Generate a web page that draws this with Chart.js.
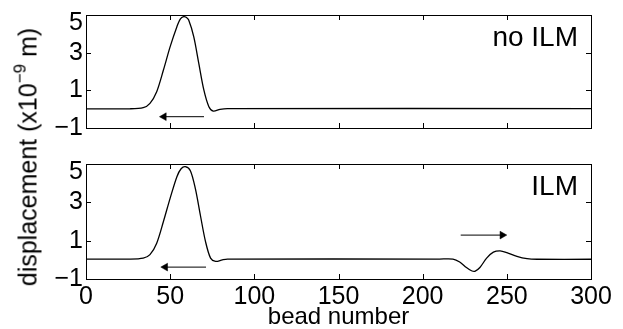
<!DOCTYPE html>
<html>
<head>
<meta charset="utf-8">
<script src="https://cdn.jsdelivr.net/npm/chart.js@4.4.1/dist/chart.umd.min.js"></script>
<style>
  html, body { margin: 0; padding: 0; background: #fff; overflow: hidden; }
  #wrap { position: relative; width: 623px; height: 329px; font-family: "Liberation Sans", Arial, sans-serif; }
  canvas { position: absolute; left: 0; }
  #c1 { top: 0; }
  #c2 { top: 150px; }
  #ylabel {
    position: absolute; left: 28px; top: 157px;
    transform: translate(-50%, -50%) rotate(-90deg);
    white-space: nowrap; font-size: 25px; color: #000;
  }
  #ylabel sup { font-size: 17px; line-height: 0; vertical-align: 11px; }
</style>
</head>
<body>
<div id="wrap">
  <canvas id="c1" width="623" height="140"></canvas>
  <canvas id="c2" width="623" height="182"></canvas>
  <div id="ylabel">displacement (x10<sup>&minus;9</sup> m)</div>
</div>
<script>
/* ===== data ===== */
const xTickValues = [0, 50, 100, 150, 200, 250, 300];
const xTickLabels = ["0", "50", "100", "150", "200", "250", "300"];
const yTickValues = [-1, 1, 3, 5];
const yTickLabels = ["\u22121", "1", "3", "5"];
const panelNames = ["no ILM", "ILM"];
const xAxisTitle = "bead number";

// upper panel: no ILM
const topBead = [0, 26, 34, 38, 42, 46, 50, 54, 56, 58, 59.5, 61, 64, 67, 70, 73, 75.6, 79.6, 84, 300];
const topDisp = [0.02, 0.02, 0.08, 0.31, 0.93, 2.08, 3.32, 4.38, 4.78, 4.91, 4.88, 4.73, 3.85, 2.43, 1.02, 0.13, -0.1, -0.01, 0.03, 0.03];

// lower panel: ILM
const bottomBead = [0, 26, 34, 38, 42, 46, 50, 54, 56.5, 59, 62, 65, 68, 71, 74, 77, 81, 84, 210, 218, 222, 226, 229, 231, 234, 238, 242, 246, 250, 256, 262, 268, 300];
const bottomDisp = [0.04, 0.04, 0.09, 0.27, 0.87, 2.0, 3.22, 4.34, 4.75, 4.86, 4.65, 3.7, 2.3, 0.95, 0.09, -0.08, 0.0, 0.04, 0.04, 0.04, -0.11, -0.4, -0.57, -0.6, -0.4, 0.09, 0.4, 0.47, 0.38, 0.18, 0.06, 0.03, 0.03];

// arrows: [tail, head centre]
const topArrowBead = [70.1, 46.3];
const topArrowDisp = [-0.4, -0.4];
const leftArrowBead = [71.3, 47.1];
const leftArrowDisp = [-0.38, -0.38];
const rightArrowBead = [222.6, 247.3];
const rightArrowDisp = [1.29, 1.29];

/* ===== helpers ===== */
const FONT = "'Liberation Sans', Arial, sans-serif";

function toPoints(xs, ys) {
  return xs.map((x, i) => ({ x: x, y: ys[i] }));
}

function curveSet(xs, ys) {
  return {
    data: toPoints(xs, ys),
    borderColor: "#000",
    borderWidth: 1.3,
    pointRadius: 0,
    tension: 0.3,
    fill: false
  };
}

function arrowSet(xs, ys, dir) {
  return {
    data: toPoints(xs, ys),
    borderColor: "#000",
    borderWidth: 1,
    tension: 0,
    pointStyle: "triangle",
    pointRadius: [0, 4.5],
    pointRotation: [0, dir],
    pointBackgroundColor: "#000",
    pointBorderColor: "#000",
    pointBorderWidth: 0.5,
    fill: false
  };
}

/* box, inward ticks and panel name */
const framePlugin = {
  id: "frame",
  afterDraw(chart, args, opts) {
    const { ctx, chartArea: a, scales } = chart;
    const tl = 5;
    ctx.save();
    ctx.strokeStyle = "#000";
    ctx.lineWidth = 1;
    ctx.strokeRect(a.left + 0.5, a.top + 0.5, a.right - a.left, a.bottom - a.top);
    ctx.beginPath();
    xTickValues.forEach(v => {
      const px = Math.round(scales.x.getPixelForValue(v)) + 0.5;
      ctx.moveTo(px, a.bottom); ctx.lineTo(px, a.bottom - tl);
      ctx.moveTo(px, a.top); ctx.lineTo(px, a.top + tl);
    });
    yTickValues.forEach(v => {
      const py = Math.round(scales.y.getPixelForValue(v)) + 0.5;
      ctx.moveTo(a.left, py); ctx.lineTo(a.left + tl, py);
      ctx.moveTo(a.right, py); ctx.lineTo(a.right - tl, py);
    });
    ctx.stroke();
    ctx.fillStyle = "#000";
    ctx.font = "28px " + FONT;
    ctx.textAlign = "right";
    ctx.textBaseline = "alphabetic";
    ctx.fillText(opts.name, a.right - 13, a.top + 31);
    ctx.restore();
  }
};

function makeChart(id, datasets, name, padTop, xAxisHeight, showX) {
  return new Chart(document.getElementById(id), {
    type: "line",
    data: { datasets: datasets },
    options: {
      responsive: false,
      animation: false,
      devicePixelRatio: 1,
      layout: { padding: { top: padTop, right: 32, left: 0, bottom: 0 } },
      plugins: {
        legend: { display: false },
        tooltip: { enabled: false },
        frame: { name: name }
      },
      scales: {
        x: {
          type: "linear",
          min: 0, max: 300,
          grid: { display: false, drawTicks: false },
          border: { display: false },
          afterBuildTicks: s => { s.ticks = xTickValues.map(v => ({ value: v })); },
          afterFit: s => {
            s.height = xAxisHeight;
            s.paddingLeft = 0; s.paddingRight = 0;
          },
          ticks: {
            display: showX,
            padding: 3,
            color: "#000",
            maxRotation: 0,
            autoSkip: false,
            font: { family: FONT, size: 25, lineHeight: 1.2 },
            callback: (v) => xTickLabels[xTickValues.indexOf(v)]
          },
          title: {
            display: showX,
            text: xAxisTitle,
            color: "#000",
            padding: 0,
            font: { family: FONT, size: 24, lineHeight: 1.2 }
          }
        },
        y: {
          min: -1, max: 5,
          grid: { display: false, drawTicks: false },
          border: { display: false },
          afterBuildTicks: s => { s.ticks = yTickValues.map(v => ({ value: v })); },
          afterFit: s => {
            s.width = 86;
            s.paddingTop = 0; s.paddingBottom = 0;
          },
          ticks: {
            padding: 3,
            color: "#000",
            // top label sits just below the box edge, as in the figure
            font: c => ({ family: FONT, size: 25, lineHeight: c.tick && c.tick.value === 5 ? "16px" : 1.2 }),
            callback: (v) => {
              const lab = yTickLabels[yTickValues.indexOf(v)];
              return v === 5 ? ["", lab] : lab;
            }
          }
        }
      }
    },
    plugins: [framePlugin]
  });
}

makeChart("c1", [
  curveSet(topBead, topDisp),
  arrowSet(topArrowBead, topArrowDisp, -90)
], panelNames[0], 15, 12, false);

makeChart("c2", [
  curveSet(bottomBead, bottomDisp),
  arrowSet(leftArrowBead, leftArrowDisp, -90),
  arrowSet(rightArrowBead, rightArrowDisp, 90)
], panelNames[1], 14, 53, true);
</script>
</body>
</html>
